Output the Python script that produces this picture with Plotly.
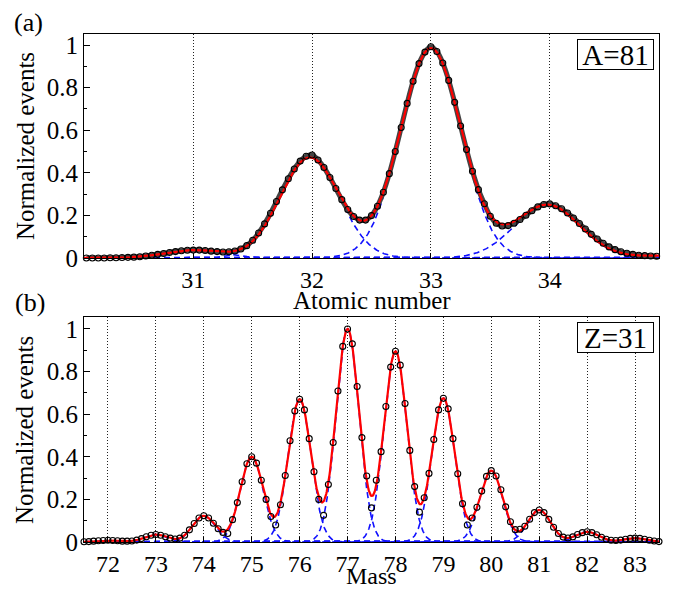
import numpy as np
import plotly.graph_objects as go

FONT = "Liberation Serif, Times New Roman, serif"

# ---------------- Panel (a): A = 81, atomic-number distribution ----------------
A_X_START, A_X_STEP = 30.10, 0.05
A_DATA = [
    0.000, 0.000, 0.000, 0.000, 0.001, 0.001, 0.002, 0.003, 0.004, 0.006,
    0.009, 0.013, 0.017, 0.021, 0.026, 0.030, 0.034, 0.036, 0.037, 0.037,
    0.035, 0.032, 0.030, 0.028, 0.029, 0.033, 0.042, 0.058, 0.083, 0.117,
    0.160, 0.210, 0.265, 0.320, 0.372, 0.418, 0.455, 0.478, 0.484, 0.460,
    0.425, 0.378, 0.326, 0.274, 0.228, 0.195, 0.178, 0.178, 0.199, 0.243,
    0.309, 0.396, 0.500, 0.613, 0.726, 0.830, 0.913, 0.967, 0.992, 0.970,
    0.916, 0.834, 0.731, 0.620, 0.509, 0.407, 0.321, 0.255, 0.196, 0.163,
    0.150, 0.152, 0.163, 0.181, 0.201, 0.222, 0.240, 0.251, 0.254, 0.245,
    0.231, 0.211, 0.188, 0.162, 0.136, 0.111, 0.089, 0.069, 0.052, 0.039,
    0.029, 0.022, 0.017, 0.013, 0.011, 0.009, 0.008,
]
# Gaussian fit components (centre, amplitude, sigma)
A_CENTERS = [31.0, 31.98, 33.0, 33.98, 34.95]
A_AMPS = [0.037, 0.472, 0.985, 0.25, 0.01]
A_SIGMAS = [0.24, 0.25, 0.255, 0.275, 0.25]
A_XRANGE = [30.08, 34.92]
A_TICKS = [31, 32, 33, 34]

# ---------------- Panel (b): Z = 31, mass distribution ----------------
B_X_START, B_X_STEP = 71.5, 0.1
B_DATA = [
    0.001, 0.002, 0.004, 0.006, 0.007, 0.008, 0.007, 0.006, 0.004, 0.004,
    0.005, 0.009, 0.016, 0.025, 0.032, 0.035, 0.032, 0.025, 0.018, 0.014,
    0.018, 0.032, 0.057, 0.087, 0.113, 0.123, 0.113, 0.088, 0.062, 0.045,
    0.040, 0.105, 0.185, 0.283, 0.367, 0.400, 0.370, 0.290, 0.200, 0.120,
    0.080, 0.175, 0.312, 0.475, 0.615, 0.670, 0.620, 0.485, 0.330, 0.200,
    0.125, 0.270, 0.467, 0.709, 0.918, 1.000, 0.930, 0.730, 0.490, 0.310,
    0.160, 0.290, 0.424, 0.636, 0.821, 0.895, 0.830, 0.650, 0.430, 0.260,
    0.140, 0.208, 0.322, 0.481, 0.620, 0.675, 0.625, 0.485, 0.320, 0.180,
    0.080, 0.113, 0.163, 0.239, 0.308, 0.335, 0.310, 0.245, 0.165, 0.095,
    0.058, 0.060, 0.074, 0.107, 0.138, 0.150, 0.138, 0.106, 0.069, 0.040,
    0.023, 0.019, 0.024, 0.035, 0.044, 0.048, 0.044, 0.034, 0.022, 0.013,
    0.008, 0.007, 0.009, 0.013, 0.017, 0.018, 0.017, 0.013, 0.008, 0.005,
    0.002,
]
B_CENTERS = [72, 73, 74, 75, 76, 77, 78, 79, 80, 81, 82, 83]
B_AMPS = [0.008, 0.035, 0.123, 0.40, 0.67, 1.0, 0.895, 0.675, 0.335, 0.15, 0.048, 0.018]
B_SIGMA = 0.24
B_XRANGE = [71.5, 83.5]
B_TICKS = list(range(72, 84))

Y_TICKS = [0, 0.2, 0.4, 0.6, 0.8, 1]
Y_TICKTEXT = ["0", "0.2", "0.4", "0.6", "0.8", "1"]


def gauss(x, c, a, s):
    return a * np.exp(-((x - c) ** 2) / (2 * s * s))


fig = go.Figure()


def add_panel(xa, ya, xrange_, centers, amps, sigmas, data_x, data_y, dense):
    xf = np.linspace(xrange_[0], xrange_[1], 1200)
    total = np.zeros_like(xf)
    for c, a, s in zip(centers, amps, sigmas):
        g = gauss(xf, c, a, s)
        total += g
        fig.add_trace(go.Scatter(x=xf, y=g, mode="lines", xaxis=xa, yaxis=ya,
                                 line=dict(color="#1010ff", width=1.6, dash="6px,4px"),
                                 hoverinfo="skip"))
    if dense:
        fig.add_trace(go.Scatter(x=data_x, y=data_y, mode="lines", xaxis=xa, yaxis=ya,
                                 line=dict(color="#444444", width=5, shape="spline"),
                                 hoverinfo="skip"))
    fig.add_trace(go.Scatter(x=xf, y=total, mode="lines", xaxis=xa, yaxis=ya,
                             line=dict(color="#ff0000", width=2.2)))
    fig.add_trace(go.Scatter(x=data_x, y=data_y, mode="markers", xaxis=xa, yaxis=ya,
                             cliponaxis=False,
                             marker=dict(symbol="circle-open", size=6,
                                         color="black", line=dict(width=1.1, color="black"))))


ax = A_X_START + A_X_STEP * np.arange(len(A_DATA))
bx = B_X_START + B_X_STEP * np.arange(len(B_DATA))

add_panel("x", "y", A_XRANGE, A_CENTERS, A_AMPS, A_SIGMAS, ax, A_DATA, True)
add_panel("x2", "y2", B_XRANGE, B_CENTERS, B_AMPS, [B_SIGMA] * len(B_CENTERS), bx, B_DATA, False)

TICKFONT = dict(family=FONT, size=24, color="black")
xcommon = dict(ticks="inside", ticklen=5, tickcolor="black", showgrid=True,
               gridcolor="#222222", griddash="1px,2px", gridwidth=1,
               showline=True, linecolor="black", linewidth=1, mirror=True,
               zeroline=False, automargin=False, tickfont=TICKFONT)
ycommon = dict(ticks="inside", ticklen=6, tickcolor="black", showgrid=False,
               showline=True, linecolor="black", linewidth=1, mirror=True,
               zeroline=False, automargin=False, tickvals=Y_TICKS, ticktext=Y_TICKTEXT,
               minor=dict(tickvals=[0.1, 0.3, 0.5, 0.7, 0.9], ticks="inside",
                          ticklen=3, tickcolor="black"),
               tickfont=dict(family=FONT, size=25, color="black"))

fig.update_layout(
    width=675, height=590,
    font=dict(family=FONT, size=25, color="black"),
    margin=dict(l=84, r=16, t=34, b=48, autoexpand=False),
    paper_bgcolor="white", plot_bgcolor="white",
    showlegend=False,
    xaxis=dict(domain=[0, 1], anchor="y", range=A_XRANGE, tickvals=A_TICKS, **xcommon),
    yaxis=dict(domain=[0.5591, 1], anchor="x", range=[0, 1.052], **ycommon),
    xaxis2=dict(domain=[0, 1], anchor="y2", range=B_XRANGE, tickvals=B_TICKS, **xcommon),
    yaxis2=dict(domain=[0, 0.4429], anchor="x2", range=[0, 1.056], **ycommon),
)

tf = dict(family=FONT, size=25, color="black")
C = dict(xref="paper", yref="paper", showarrow=False, xanchor="center", yanchor="middle")
BOX = dict(xref="paper", yref="paper", xanchor="right", yanchor="top", showarrow=False,
           bordercolor="black", borderwidth=1, borderpad=0, bgcolor="white",
           width=75, height=29, valign="middle",
           font=dict(family=FONT, size=29, color="black"))
ann = [
    dict(text="(a)", x=-0.0957, y=1.0236, font=dict(family=FONT, size=26, color="black"), **C),
    dict(text="(b)", x=-0.0939, y=0.4724, font=dict(family=FONT, size=26, color="black"), **C),
    dict(text="Atomic number", x=0.5, y=0.4763, font=tf, **C),
    dict(text="Mass", x=0.5, y=-0.0670, font=dict(family=FONT, size=24, color="black"), **C),
    dict(text="Normalized events", x=-0.1026, y=0.7795, textangle=-90, font=tf, **C),
    dict(text="Normalized events", x=-0.1026, y=0.2205, textangle=-90, font=tf, **C),
    dict(text="A=81", x=0.9913, y=0.990, **BOX),
    dict(text="Z=31", x=0.9913, y=0.4337, **BOX),
]
fig.update_layout(annotations=ann)

fig.write_html("out.html", config={"displayModeBar": False},
               post_script="document.body.style.margin='0px';document.body.style.padding='0px';")
